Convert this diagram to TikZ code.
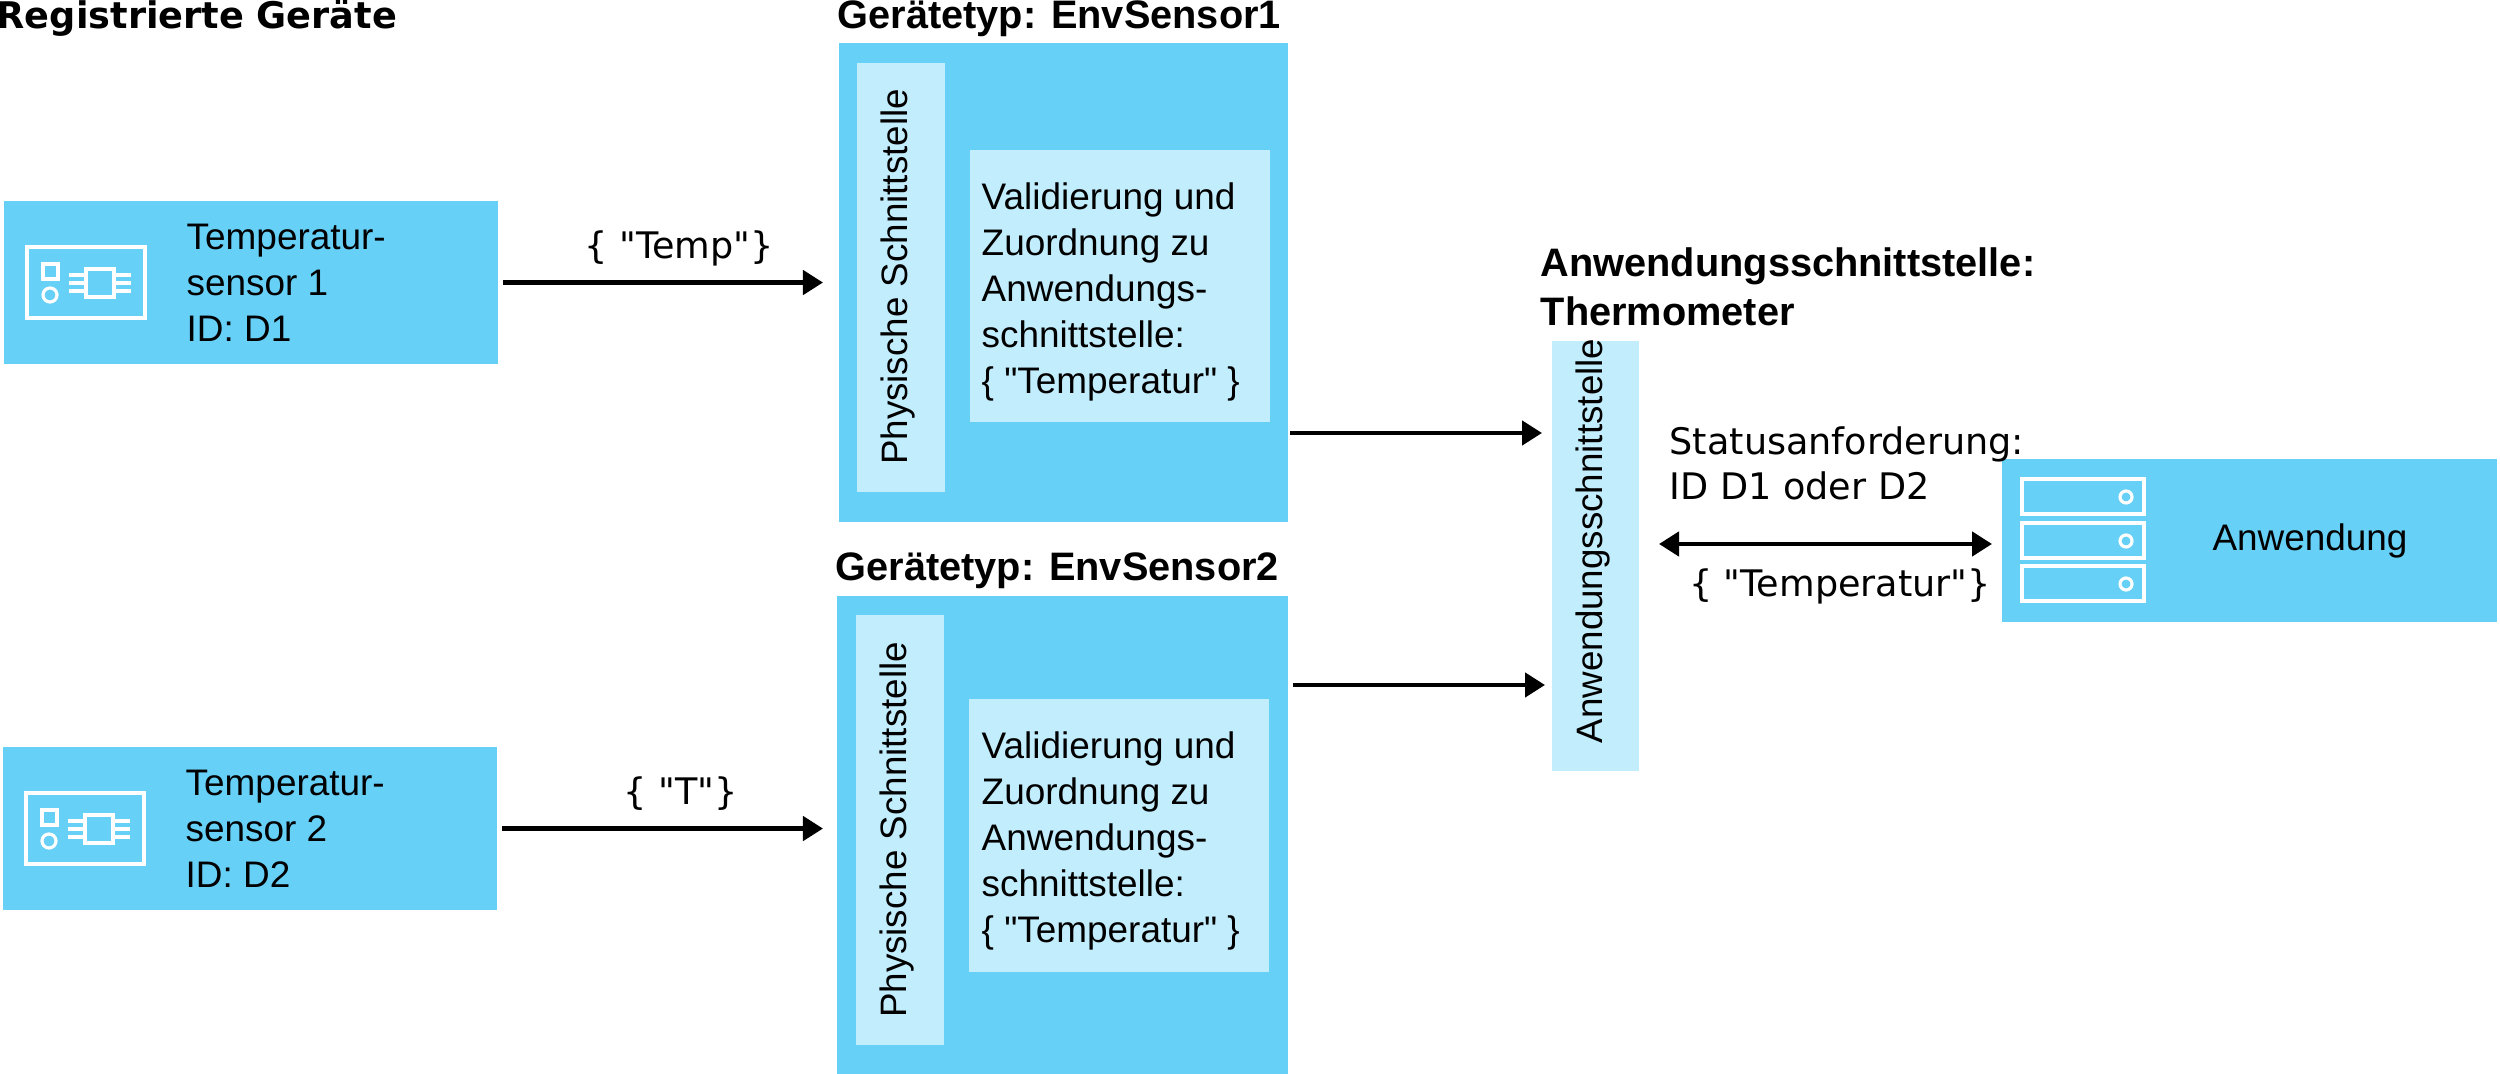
\documentclass[tikz,border=0pt]{standalone}
\usepackage{fontspec}
\setmainfont{Liberation Sans}
\newfontfamily\dejavu{DejaVu Sans}
\usetikzlibrary{arrows.meta}
\definecolor{boxblue}{HTML}{66D0F7}
\definecolor{innerblue}{HTML}{C2EDFC}
\tikzset{
  outerbox/.style={fill=boxblue, anchor=north west, inner sep=0pt, outer sep=0pt},
  innerbox/.style={fill=innerblue, anchor=north west, inner sep=0pt, outer sep=0pt},
  boxtext/.style={anchor=base west, inner sep=0pt, font=\fontsize{10.5}{13.1}\selectfont, align=left},
  vtext/.style={rotate=90, inner sep=0pt, font=\fontsize{10.45}{13}\selectfont},
  title/.style={anchor=base west, inner sep=0pt, font=\fontsize{11.3}{14.2}\selectfont\bfseries, align=left},
  arrowtext/.style={anchor=base, inner sep=0pt, font=\fontsize{10.4}{13}\selectfont\dejavu},
  flow/.style={-{Triangle[length=2mm,width=2.4mm]}, line width=1.3pt},
  icon/.style={draw=white, line width=0.9pt},
  pics/sensoricon/.style={code={
    \draw[icon] (0,0) rectangle (118,71);
    \draw[icon] (16,17) rectangle (31,32);
    \draw[icon] (23,48) circle (0.07cm);
    \draw[icon] (59,22) rectangle (87,50);
    \foreach \y in {28,36,44} {
      \draw[icon] (42,\y) -- (59,\y);
      \draw[icon] (87,\y) -- (104,\y);
    }
  }},
  pics/servericon/.style={code={
    \foreach \y in {0,44,87} {
      \draw[icon] (0,\y) rectangle (122,\y+35);
      \draw[icon] (104,\y+18) circle (0.06cm);
    }
  }},
}
\begin{document}
\begin{tikzpicture}[x=0.01cm, y=-0.01cm]
    \useasboundingbox (0,-1) rectangle (2500,1073);

    % Registered devices
    \node[title, font=\fontsize{10.43}{14}\selectfont\bfseries\dejavu] (regtitle) at (-4,28) {Registrierte Geräte};
    \node[outerbox, minimum width=4.94cm, minimum height=1.63cm] (s1) at (4,200) {};
    \node[outerbox, minimum width=4.94cm, minimum height=1.63cm] (s2) at (3,746) {};
    \pic at (27,246) {sensoricon};
    \pic at (26,792) {sensoricon};
    \node[boxtext] (s1text) at (186,341) {Temperatur-\\sensor 1\\ID: D1};
    \node[boxtext] (s2text) at (185,887) {Temperatur-\\sensor 2\\ID: D2};

    % Device types
    \node[title] (d1title) at (837,28) {Gerätetyp: EnvSensor1};
    \node[outerbox, minimum width=4.49cm, minimum height=4.79cm] (d1) at (839,42) {};
    \node[innerbox, minimum width=0.88cm, minimum height=4.29cm] (p1) at (857,62) {};
    \node[vtext] (p1text) at (898,276) {Physische Schnittstelle};
    \node[innerbox, minimum width=3.00cm, minimum height=2.72cm] (v1) at (970,149) {};
    \node[boxtext] (v1text) at (981,393) {Validierung und\\Zuordnung zu\\Anwendungs-\\schnittstelle:\\\{ \textquotedbl Temperatur\textquotedbl{} \}};

    \node[title] (d2title) at (835,580) {Gerätetyp: EnvSensor2};
    \node[outerbox, minimum width=4.51cm, minimum height=4.79cm] (d2) at (837,595) {};
    \node[innerbox, minimum width=0.88cm, minimum height=4.30cm] (p2) at (856,614) {};
    \node[vtext] (p2text) at (897,829) {Physische Schnittstelle};
    \node[innerbox, minimum width=3.00cm, minimum height=2.73cm] (v2) at (969,698) {};
    \node[boxtext] (v2text) at (981,942) {Validierung und\\Zuordnung zu\\Anwendungs-\\schnittstelle:\\\{ \textquotedbl Temperatur\textquotedbl{} \}};

    % Application interface
    \node[title] (iftitle) at (1540,325) {Anwendungsschnittstelle:\\Thermometer};
    \node[innerbox, minimum width=0.87cm, minimum height=4.30cm] (if) at (1552,340) {};
    \node[vtext] (iftext) at (1593,540) {Anwendungsschnittstelle};

    % Application
    \node[outerbox, minimum width=4.95cm, minimum height=1.63cm] (app) at (2002,458) {};
    \pic at (2022,478) {servericon};
    \node[anchor=base, inner sep=0pt, font=\fontsize{10.5}{13}\selectfont] (apptext) at (2310,550) {Anwendung};

    % Connectors
    \coordinate (c1) at (1542,432);
    \coordinate (c2) at (1545,684);
    \coordinate (c3) at (1659,543);
    \coordinate (c4) at (1992,543);
    \draw[flow, shorten <=0.5mm, shorten >=1.6mm] (s1.east) -- (s1.east -| d1.west);
    \draw[flow, shorten <=0.5mm, shorten >=1.4mm] (s2.east) -- (s2.east -| d2.west);
    \draw[flow, shorten <=0.2mm] (d1.east |- c1) -- (c1);
    \draw[flow, shorten <=0.5mm] (d2.east |- c2) -- (c2);
    \draw[flow, {Triangle[length=2mm,width=2.4mm]}-{Triangle[length=2mm,width=2.4mm]}] (c3) -- (c4);

    % Labels on the connectors
    \node[arrowtext] (t1) at (679,258) {\{ "Temp"\}};
    \node[arrowtext] (t2) at (681,804) {\{ "T"\}};
    \node[arrowtext, anchor=base west, align=left] (t3) at (1669,499) {Statusanforderung:\\ID D1 oder D2};
    \node[arrowtext] (t4) at (1840,596) {\{ "Temperatur"\}};
\end{tikzpicture}
\end{document}
